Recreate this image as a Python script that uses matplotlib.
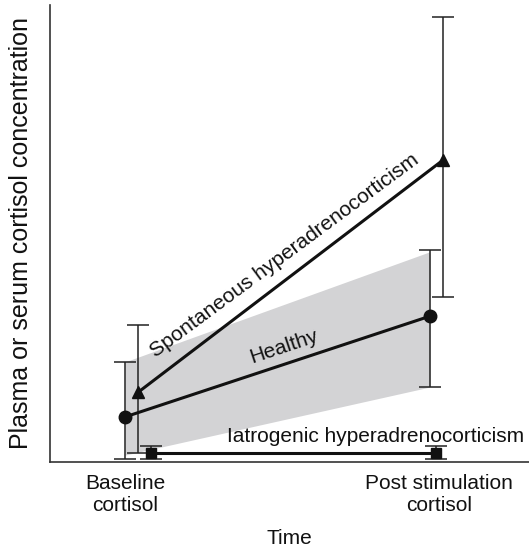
import numpy as np
import matplotlib.pyplot as plt

plt.rcParams['font.family'] = ['Liberation Sans', 'DejaVu Sans']

# x positions: 0 = baseline, 1 = post stimulation
tick_labels = ['Baseline\ncortisol', 'Post stimulation\ncortisol']

healthy_mean = [9.85, 31.9]
healthy_lo = [0.66, 16.5]
healthy_hi = [21.9, 46.4]
band_lo = [1.5, 16.4]
band_hi = [21.9, 46.0]

spont_mean = [15.3, 66.1]
spont_lo = [2.0, 36.1]
spont_hi = [30.0, 97.4]

iatro_mean = [2.0, 2.0]
iatro_lo = [0.66, 0.66]
iatro_hi = [3.5, 3.5]

# horizontal nudges so the error bars don't overlap
x_healthy = np.array([0.0, 1.0])
x_spont = x_healthy + 0.044
x_iatro = np.array([0.084, 1.019])

fig = plt.figure(figsize=(5.29, 5.48), dpi=100)
ax = fig.add_axes([0.0945, 0.157, 0.9055, 0.834])

ax.fill_between(x_healthy, band_lo, band_hi, color='#d3d3d5', lw=0, zorder=1)

def draw_group(ax, x, mean, lo, hi, marker, ms):
    mean = np.array(mean)
    yerr = [mean - np.array(lo), np.array(hi) - mean]
    ax.errorbar(x, mean, yerr=yerr, fmt='none', ecolor='#222222',
                elinewidth=1.1, capsize=8, capthick=1.1, zorder=2)
    ax.plot(x, mean, color='#111111', lw=2.2, marker=marker, ms=ms, zorder=3)

draw_group(ax, x_healthy, healthy_mean, healthy_lo, healthy_hi, 'o', 9)
draw_group(ax, x_spont, spont_mean, spont_lo, spont_hi, '^', 8)
draw_group(ax, x_iatro, iatro_mean, iatro_lo, iatro_hi, 's', 7)

fs = 15
ax.text(0.535, 44.2, 'Spontaneous hyperadrenocorticism', rotation=36.5,
        rotation_mode='anchor', ha='center', va='baseline', fontsize=fs, color='#111111')
ax.text(0.528, 24.0, 'Healthy', rotation=18.5,
        rotation_mode='anchor', ha='center', va='baseline', fontsize=fs, color='#111111')
ax.text(0.823, 4.4, 'Iatrogenic hyperadrenocorticism',
        ha='center', va='baseline', fontsize=fs, color='#111111')

ax.set_xlim(-0.246, 1.325)
ax.set_ylim(0, 100)
ax.set_xticks([0, 1.03])
ax.set_xticklabels(tick_labels, fontsize=fs, color='#111111')
ax.set_yticks([])
ax.tick_params(axis='x', length=0, pad=9)
ax.set_xlabel('Time', fontsize=fs, color='#111111', labelpad=10)
ax.set_ylabel('Plasma or serum cortisol concentration', fontsize=18, color='#111111', labelpad=12)

for s in ['top', 'right']:
    ax.spines[s].set_visible(False)
for s in ['left', 'bottom']:
    ax.spines[s].set_color('#333333')
    ax.spines[s].set_linewidth(1.2)

fig.savefig('out.png', dpi=100)
